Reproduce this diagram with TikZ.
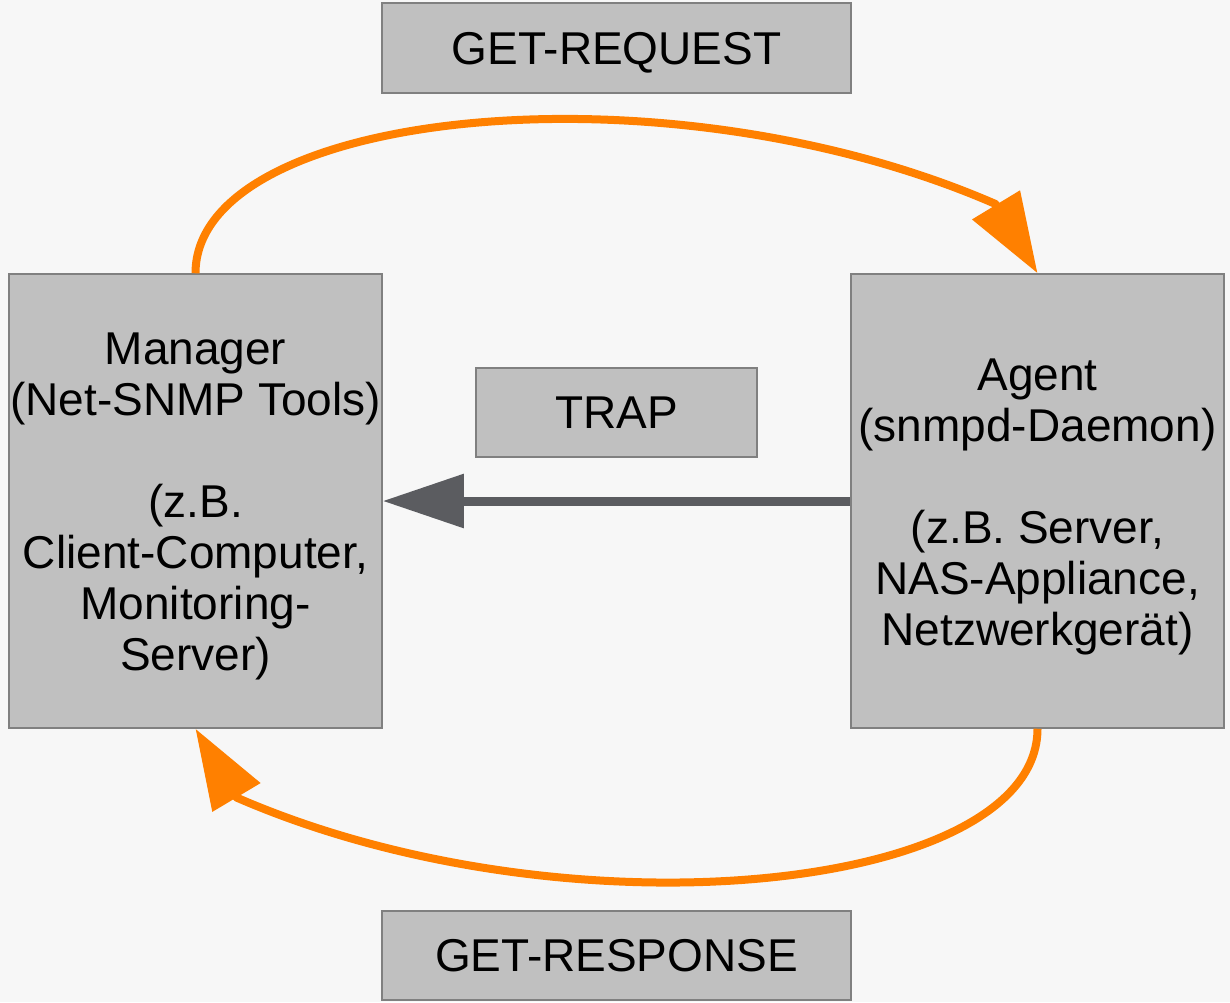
\documentclass[tikz,border=0pt]{standalone}
\usepackage{fontspec}
\setmainfont{Liberation Sans}
\usetikzlibrary{arrows.meta}
\definecolor{bgc}{HTML}{F7F7F7}
\definecolor{boxfill}{HTML}{C0C0C0}
\definecolor{boxline}{HTML}{808080}
\definecolor{flow}{HTML}{FF8000}
\definecolor{trapc}{HTML}{5B5C60}
\tikzset{
  box/.style={draw=boxline, line width=1.5pt, fill=boxfill, inner sep=0pt,
    align=center, font=\fontsize{46}{51}\selectfont},
  label box/.style={box, text depth=0pt},
  flowarrow/.style={draw=flow, line width=8pt, line join=round,
    -{Triangle[length=80pt,width=54pt]}},
  traparrow/.style={draw=trapc, line width=9pt,
    -{Triangle[length=81pt,width=52pt]}}
}
\newcommand{\firstline}{\rule{0pt}{43pt}}
\begin{document}
\begin{tikzpicture}[x=1pt,y=-1pt]
  \fill[bgc] (0,0) rectangle (1230,1002);
  \useasboundingbox (0,0) rectangle (1230,1002);

  \node[label box, minimum width=469pt, minimum height=90pt] (req) at (616.5,48) {GET-REQUEST};
  \node[label box, minimum width=469pt, minimum height=89pt] (resp) at (616.5,955.5) {GET-RESPONSE};
  \node[label box, minimum width=281pt, minimum height=89pt] (trap) at (616.5,412.5) {TRAP};
  \node[box, minimum width=373pt, minimum height=454pt] (man) at (195.5,501)
    {\firstline Manager\\(Net-SNMP Tools)\\[51pt](z.B.\\Client-Computer,\\Monitoring-\\Server)};
  \node[box, minimum width=373pt, minimum height=454pt] (ag) at (1037.5,501)
    {\firstline Agent\\(snmpd-Daemon)\\[51pt](z.B. Server,\\NAS-Appliance,\\Netzwerkgerät)};

  % where the loop lines meet the back of their arrowheads
  \coordinate (reqbase) at (995.5,204);
  \coordinate (respbase) at (236.5,797.5);

  % request / response loops
  \draw[flowarrow] (man.north) .. controls +(0,-164) and (665,60) .. (reqbase) -- (ag.north);
  \draw[flowarrow] (ag.south) .. controls +(0,164) and (566,941) .. (respbase) -- (man.south);

  % trap from agent to manager
  \draw[traparrow] (ag.west) -- (man.east);
\end{tikzpicture}
\end{document}
